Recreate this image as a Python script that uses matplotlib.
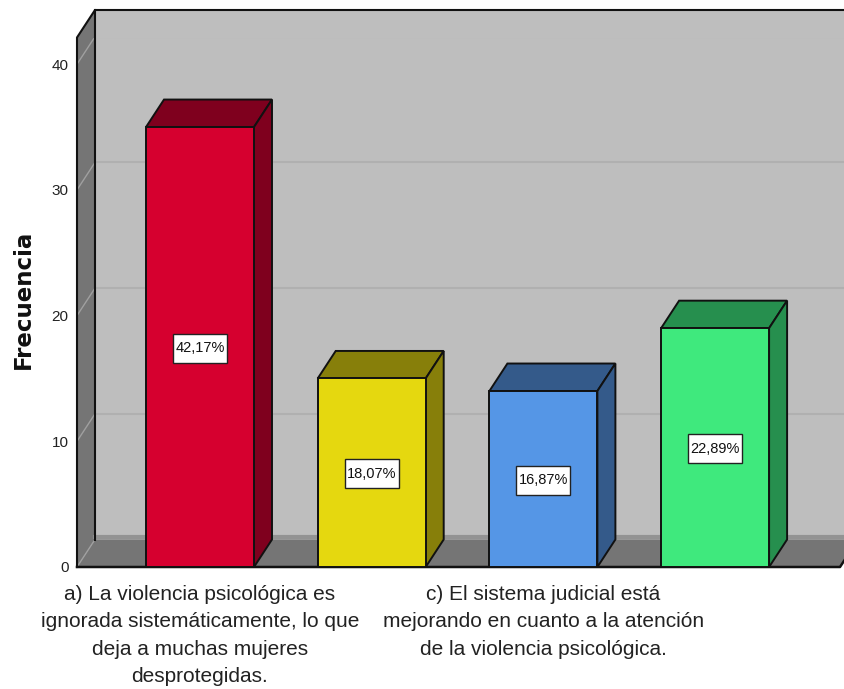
import matplotlib
matplotlib.use("Agg")
import matplotlib.pyplot as plt
from matplotlib.patches import Polygon, Rectangle

plt.rcParams['font.family'] = ['Liberation Sans', 'DejaVu Sans']

# data
positions = [0, 1, 2, 3]
frequencies = [35, 15, 14, 19]
percent_labels = ["42,17%", "18,07%", "16,87%", "22,89%"]
front_colors = ["#D6002F", "#E5D80F", "#5596E6", "#3FE97D"]
side_colors = ["#7F001E", "#877F0A", "#345A8A", "#268F4E"]
y_ticks = [0, 10, 20, 30, 40]
x_label_positions = [0, 2]
x_labels = [
    "a) La violencia psicológica es\nignorada sistemáticamente, lo que\ndeja a muchas mujeres\ndesprotegidas.",
    "c) El sistema judicial está\nmejorando en cuanto a la atención\nde la violencia psicológica.",
]

W, H = 845, 689
px_x = 171.7      # pixels per category
px_y = 12.57      # pixels per frequency unit
bar_w = 108 / px_x
dx = 18 / px_x    # depth offset of the 3d box
dy = 27.5 / px_y
xmin = (77 - 200) / px_x
xmax = (845 - 200) / px_x
x_front_end = (840 - 200) / px_x
ymax = (567 - 10 - 27.5) / px_y

fig = plt.figure(figsize=(W / 100, H / 100), dpi=100)
ax = fig.add_axes([77 / W, (H - 567) / H, (845 - 77) / W, (567 - 37.5) / H])
ax.set_xlim(xmin, xmax)
ax.set_ylim(0, ymax)
for s in ax.spines.values():
    s.set_visible(False)

wall = "#BEBEBE"
dark = "#757575"
grid = "#B0B0B0"
line = "#111111"

def poly(points, fc, ec=line, lw=1.4, z=1):
    ax.add_patch(Polygon(points, closed=True, fc=fc, ec=ec, lw=lw, zorder=z,
                         clip_on=False, joinstyle="miter"))

# back wall, left wall, floor
far = xmax + 1
poly([(xmin + dx, dy), (far, dy), (far, ymax + dy), (xmin + dx, ymax + dy)], wall, ec="none", z=1)
poly([(xmin, 0), (xmin + dx, dy), (xmin + dx, ymax + dy), (xmin, ymax)], dark, ec="none", z=2)
poly([(xmin, 0), (x_front_end, 0), (x_front_end + dx, dy), (xmin + dx, dy)], dark, ec="none", z=2)
ax.plot([xmin + dx, xmax], [dy + 0.2, dy + 0.2], color="#939393", lw=3, zorder=2.5)

# wall outlines
ax.plot([xmin, xmin, xmin + dx, xmax], [0, ymax, ymax + dy, ymax + dy], color=line, lw=1.5, zorder=3, clip_on=False)
ax.plot([xmin + dx, xmin + dx], [dy, ymax + dy], color=line, lw=1.5, zorder=3, clip_on=False)
ax.plot([xmin, x_front_end, x_front_end + dx], [0, 0, dy], color=line, lw=1.8, zorder=3, clip_on=False)

# gridlines on the back and left walls
for t in y_ticks[1:]:
    ax.plot([xmin + dx, xmax], [t + dy, t + dy], color=grid, lw=1.5, zorder=1.5)
for t in y_ticks:
    ax.plot([xmin, xmin + dx], [t, t + dy], color="#A0A0A0", lw=1.0, zorder=2.6)

# bars
box_w = 54 / px_x
box_h = 29 / px_y
for x, v, pct, fc, sc in zip(positions, frequencies, percent_labels, front_colors, side_colors):
    left = x - bar_w / 2
    right = x + bar_w / 2
    poly([(left, v), (right, v), (right + dx, v + dy), (left + dx, v + dy)], sc, z=4)
    poly([(right, 0), (right + dx, dy), (right + dx, v + dy), (right, v)], sc, z=4)
    ax.bar(x, v, width=bar_w, color=fc, edgecolor=line, linewidth=1.4, zorder=5)
    ax.add_patch(Rectangle((x - box_w / 2, v / 2 - box_h / 2 - 0.1), box_w, box_h,
                           fc="white", ec="#222222", lw=1.0, zorder=6))
    ax.text(x, v / 2 - 0.1, pct, ha="center", va="center", fontsize=10.5, color=line, zorder=7)

ax.set_yticks(y_ticks)
ax.set_xticks(x_label_positions)
ax.set_xticklabels(x_labels, fontsize=15, color="#222222", linespacing=1.55)
ax.tick_params(axis="x", length=0, pad=13)
ax.tick_params(axis="y", length=0, pad=6, labelsize=11, labelcolor="#222222")
fig.text(23 / W, 1 - 299 / H, "Frecuencia", rotation=90, ha="center", va="center",
         fontsize=16.5, fontweight="bold", color=line, family="DejaVu Sans")

fig.savefig("out.png", dpi=100, facecolor="white")
